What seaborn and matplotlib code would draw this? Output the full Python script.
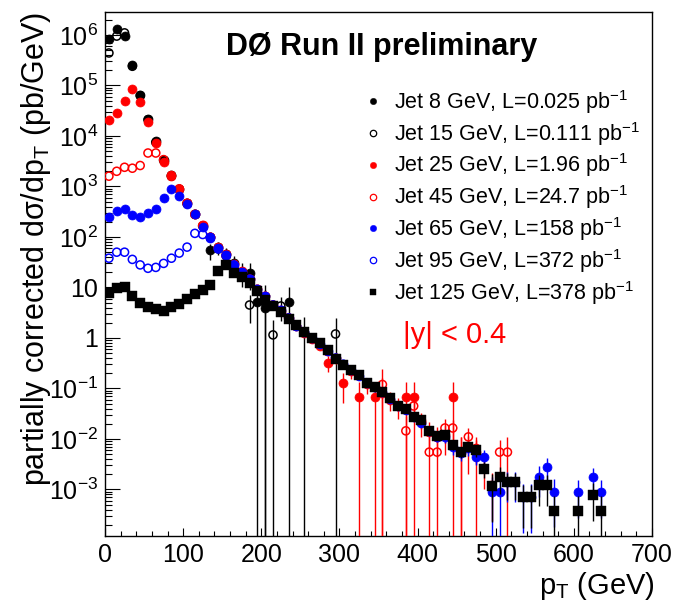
import numpy as np
import pandas as pd
import matplotlib
matplotlib.use('Agg')
import matplotlib.pyplot as plt
from matplotlib.lines import Line2D
from matplotlib.ticker import LogLocator, FuncFormatter, MultipleLocator, NullFormatter
import seaborn as sns

# ---- data (pT in GeV, dsigma/dpT in pb/GeV, rel. errors) ----
jet8_pt = [5, 15, 25, 35, 45, 55, 65, 75, 85, 95, 105, 115, 125, 135, 145, 155, 165, 175, 185, 195, 205, 235, 255]
jet8_val = [8.3e5, 1.3e6, 9.6e5, 2.5e5, 6.5e4, 2.2e4, 7.8e3, 3.4e3, 1.7e3, 900, 470, 290, 165,
            55, 62, 45, 30, 20, 19.5, 5.2, 4.0, 5.2, 1.3]
jet8_err = [0] * 13 + [0.35, 0.3, 0.35, 0.4, 0.5, 0.55, 1.1, 1.2, 1.0, 1.0]

jet15_pt = [5, 15, 25, 35, 45, 55, 65, 75, 85, 95, 105, 115, 125, 135, 145, 155, 165, 175, 185, 205, 215, 225, 295]
jet15_val = [4.4e5, 9.5e5, 1.1e6, 2.4e5, 6.3e4, 2.1e4, 7.5e3, 3.3e3, 1.6e3, 880, 460, 280, 165, 98,
             58, 42, 27, 19, 4.5, 5.0, 1.15, 4.3, 1.2]
jet15_err = [0] * 14 + [0.15, 0.2, 0.25, 0.3, 0.55, 1.2, 1.0, 0.5, 1.1]

jet25_pt = list(range(5, 480, 10))
jet25_val = [2.1e4, 2.9e4, 4.9e4, 8.5e4, 4.7e4, 1.9e4, 7.3e3, 3.1e3, 1.6e3, 890,
             470, 285, 170, 100, 62, 45, 29, 21, 15, 9.3,
             6.9, 4.5, 3.4, 2.5, 1.7, 1.25, 0.95, 0.7, 0.32, 0.40,
             0.128, 0.22, 0.068, 0.12, 0.068, 0.08, 0.06, 0.045, 0.068, 0.068,
             0.022, 0.014, 0.011, 0.012, 0.068, 0.0055, 0.0068, 0.0055]
jet25_err = [0] * 20 + [0.03] * 8 + [0.35, 0.25] + \
            [0.6, 0.3, 1.0, 0.35, 1.0, 1.0, 0.4, 0.45, 1.0, 1.0] + \
            [0.5, 0.55, 0.6, 0.6, 1.0, 1.0, 0.7, 1.0]

jet45_pt = list(range(5, 520, 10))
jet45_val = [1.6e3, 2.0e3, 2.4e3, 2.3e3, 2.6e3, 4.6e3, 4.6e3, 3.4e3, 1.65e3, 900,
             465, 280, 168, 99, 60, 43, 28, 20, 14.5, 9.2,
             6.7, 4.5, 3.5, 2.5, 1.7, 1.3, 0.98, 0.74, 0.54, 0.39,
             0.29, 0.22, 0.18, 0.125, 0.105, 0.12, 0.063, 0.045, 0.0145, 0.045,
             0.023, 0.0055, 0.0055, 0.0165, 0.0165, 0.0055, 0.011, 0.0065, 0.0026, 0.0012,
             0.0055, 0.0055]
jet45_err = [0] * 20 + [0.03] * 10 + \
            [0.05, 0.06, 0.08, 0.1, 0.12, 1.0, 0.15, 0.2, 1.0, 0.4] + \
            [0.3, 1.0, 1.0, 0.5, 0.45, 1.0, 0.5, 0.5, 0.6, 0.8] + [0.7, 1.0]

jet65_pt = list(range(5, 580, 10)) + [605, 625, 635]
jet65_val = [250, 330, 360, 270, 250, 300, 360, 590, 890, 650,
             460, 285, 160, 96, 60, 44, 28, 20, 15, 9.0,
             6.8, 4.5, 3.6, 2.5, 1.7, 1.3, 1.0, 0.76, 0.55, 0.4,
             0.3, 0.23, 0.18, 0.13, 0.105, 0.085, 0.062, 0.044, 0.037, 0.027,
             0.021, 0.0145, 0.011, 0.011, 0.0068, 0.0052, 0.0065, 0.0044, 0.0044, 0.00089,
             0.00089, 0.0014, 0.0014, 0.0007, 0.0007, 0.0018, 0.0028, 0.00089,
             0.00089, 0.0018, 0.00089]
jet65_err = [0] * 20 + [0.02] * 10 + \
            [0.04, 0.05, 0.06, 0.07, 0.08, 0.09, 0.1, 0.12, 0.14, 0.15] + \
            [0.18, 0.2, 0.22, 0.25, 0.28, 0.3, 0.3, 0.3, 0.35, 1.0] + \
            [1.0, 0.6, 0.6, 0.8, 0.8, 0.6, 0.5, 0.8] + [0.7, 0.5, 0.7]

jet95_pt = list(range(5, 350, 10))
jet95_val = [38, 50, 50, 36, 28, 24, 25, 30, 38, 48,
             63, 118, 112, 98, 58, 43, 28, 19.5, 14.5, 9.2,
             6.6, 4.5, 3.5, 2.5, 1.7, 1.3, 1.0, 0.75, 0.55, 0.4,
             0.3, 0.23, 0.18, 0.13, 0.105]
jet95_err = [0] * 35

jet125_pt = list(range(5, 580, 10)) + [605, 625, 635]
jet125_val = [7.8, 9.8, 10.2, 6.8, 4.9, 4.1, 3.8, 3.4, 4.1, 4.7,
              5.9, 7.4, 8.9, 11.2, 21, 28, 19, 16, 12, 8.5,
              5.6, 4.3, 3.3, 2.4, 1.8, 1.31, 1.0, 0.8, 0.58, 0.38,
              0.29, 0.23, 0.185, 0.128, 0.107, 0.085, 0.065, 0.045, 0.039, 0.027,
              0.024, 0.0145, 0.0115, 0.012, 0.0076, 0.0055, 0.007, 0.006, 0.0026, 0.00115,
              0.0018, 0.0014, 0.0014, 0.0007, 0.0007, 0.0012, 0.0012, 0.00037,
              0.00037, 0.00078, 0.00037]
jet125_err = [0] * 30 + \
             [0.02, 0.03, 0.03, 0.04, 0.05, 0.05, 0.06, 0.07, 0.08, 0.09] + \
             [0.1, 0.12, 0.14, 0.15, 0.2, 0.25, 0.22, 0.25, 0.35, 0.8] + \
             [0.55, 0.55, 0.55, 0.75, 0.75, 0.6, 0.6, 1.0] + [1.0, 0.7, 1.0]

labels = ["Jet 8 GeV, L=0.025 pb$^{\\mathregular{-1}}$",
          "Jet 15 GeV, L=0.111 pb$^{\\mathregular{-1}}$",
          "Jet 25 GeV, L=1.96 pb$^{\\mathregular{-1}}$",
          "Jet 45 GeV, L=24.7 pb$^{\\mathregular{-1}}$",
          "Jet 65 GeV, L=158 pb$^{\\mathregular{-1}}$",
          "Jet 95 GeV, L=372 pb$^{\\mathregular{-1}}$",
          "Jet 125 GeV, L=378 pb$^{\\mathregular{-1}}$"]

# ---- style ----
sns.set_theme(style="white")
plt.rcParams["font.family"] = ["Liberation Sans", "DejaVu Sans"]
plt.rcParams["mathtext.fontset"] = "custom"
plt.rcParams["mathtext.rm"] = "Liberation Sans"
plt.rcParams["mathtext.it"] = "Liberation Sans:italic"
plt.rcParams["mathtext.bf"] = "Liberation Sans:bold"
plt.rcParams["text.color"] = "black"
plt.rcParams["axes.labelcolor"] = "black"

fig = plt.figure(figsize=(6.78, 6.05), dpi=100)
ax = fig.add_axes([105 / 678, 1 - 536 / 605, 547 / 678, 524 / 605])

series = [
    (jet8_pt, jet8_val, jet8_err, "o", "black", True),
    (jet15_pt, jet15_val, jet15_err, "o", "black", False),
    (jet25_pt, jet25_val, jet25_err, "o", "red", True),
    (jet45_pt, jet45_val, jet45_err, "o", "red", False),
    (jet65_pt, jet65_val, jet65_err, "o", "blue", True),
    (jet95_pt, jet95_val, jet95_err, "o", "blue", False),
    (jet125_pt, jet125_val, jet125_err, "s", "black", True),
]

handles = []
for i, (pt, val, err, mk, col, filled) in enumerate(series):
    df = pd.DataFrame({"pt": pt, "val": val, "rel": err})
    df["err"] = df["rel"] * df["val"]
    ax.errorbar(df["pt"], df["val"], yerr=df["err"], fmt="none", ecolor=col,
                elinewidth=1.0, capsize=0, zorder=2 + 2 * i)
    if mk == "s":
        size, lw = 44, 0.3
    elif filled:
        size, lw = 42, 0.5
    else:
        size, lw = 34, 1.1
    sns.scatterplot(data=df, x="pt", y="val", ax=ax, marker=mk, s=size,
                    color=col, edgecolor=col, facecolor=(col if filled else "none"),
                    linewidth=lw, zorder=3 + 2 * i, legend=False)
    handles.append(Line2D([], [], linestyle="none", marker=mk, color=col,
                          markerfacecolor=(col if filled else "none"),
                          markeredgecolor=col, markersize=4.6 if mk == "o" else 4.4,
                          markeredgewidth=0.9 if not filled else 0.3))

# ---- axes ----
ax.set_yscale("log")
ax.set_xlim(0, 700)
ax.set_ylim(1.2e-4, 2.85e6)

ax.xaxis.set_major_locator(MultipleLocator(100))
ax.xaxis.set_minor_locator(MultipleLocator(20))
ax.yaxis.set_major_locator(LogLocator(base=10, numticks=50))
ax.yaxis.set_minor_locator(LogLocator(base=10, subs=np.arange(2, 10), numticks=200))
ax.yaxis.set_minor_formatter(NullFormatter())


def log_label(v, pos):
    k = int(round(np.log10(v)))
    if k == 0:
        return "1"
    if k == 1:
        return "10"
    return "10$^{\\mathregular{%d}}$" % k


ax.yaxis.set_major_formatter(FuncFormatter(log_label))

ax.tick_params(axis="both", which="both", direction="in", colors="black",
               top=False, right=False, left=True, bottom=True)
ax.tick_params(axis="both", which="major", labelsize=18, pad=5)
ax.tick_params(axis="y", which="major", length=10.5, width=0.8)
ax.tick_params(axis="y", which="minor", length=5, width=0.8)
ax.tick_params(axis="x", which="major", length=6, width=0.8)
ax.tick_params(axis="x", which="minor", length=3.6, width=0.8)

for sp in ax.spines.values():
    sp.set_color("black")
    sp.set_linewidth(1.0)

ax.set_xlabel("p$_\\mathregular{T}$ (GeV)", fontsize=21, loc="right")
ax.xaxis.set_label_coords((655 - 105) / 547, -(570 - 536) / 524)
ax.set_ylabel("partially corrected d\u03c3/dp$_\\mathregular{T}$ (pb/GeV)", fontsize=22, loc="top")
ax.yaxis.set_label_coords(-(105 - 53) / 547, 1.0)

ax.text(0.505, (536 - 55) / 524, "D\u00d8 Run II preliminary", transform=ax.transAxes,
        fontsize=22, fontweight="bold", ha="center", va="baseline")
ax.text((403 - 105) / 547, (536 - 343) / 524, "|y| < 0.4", transform=ax.transAxes,
        fontsize=21, color="red", ha="left", va="baseline")

ax.legend(handles, labels, loc="upper left", bbox_to_anchor=((362 - 105) / 547, (536 - 88) / 524),
          frameon=False, fontsize=15.5, handlelength=1.0, handletextpad=0.5,
          labelspacing=0.18, borderpad=0, borderaxespad=0)

fig.savefig("out.png", dpi=100)
plt.close(fig)
